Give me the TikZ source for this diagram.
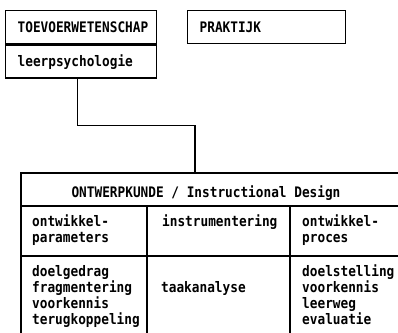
\documentclass[tikz,border=0pt]{standalone}
\usepackage{fontspec}
\newfontfamily\druk[FakeStretch=0.88]{DejaVu Sans Mono}
\usetikzlibrary{positioning}

\tikzset{
  lijn/.style={line width=1.3pt},
  tekst/.style={font=\druk\bfseries\fontsize{14.5}{16}\selectfont, inner sep=0pt},
  vak/.style={tekst, draw, lijn, anchor=north west, inner xsep=12pt, inner ysep=0pt,
    minimum height=33pt, text height=11pt, text depth=0pt, align=left},
  cel/.style={tekst, anchor=north west, align=left}
}

\begin{document}
\begin{tikzpicture}[x=1pt, y=-1pt]
\clip (0,0) rectangle (398,332);

\node[vak, text width=127pt] (toevoer) at (5,10) {TOEVOERWETENSCHAP};
\node[vak, text width=127pt, below=0pt of toevoer] (leer) {leerpsychologie};
\node[vak, text width=134pt] (praktijk) at (187,10) {PRAKTIJK};

\coordinate (tafel) at (195,173);
\draw[lijn] ([xshift=-3.5pt]leer.south) -- ++(0,47) -| (tafel);

\draw[lijn] (21,340) |- (410,173);
\draw[lijn] (21,206) -- (410,206);
\draw[lijn] (21,256) -- (410,256);
\draw[lijn] (147,206) -- (147,340);
\draw[lijn] (290,206) -- (290,340);

\node[tekst, anchor=base] (kop) at (206,197) {ONTWERPKUNDE / Instructional Design};

\node[cel] (parameters) at (32,215) {ontwikkel-\\parameters};
\node[tekst, anchor=base west] (instrument) at (162,226) {instrumentering};
\node[cel] (proces) at (302,215) {ontwikkel-\\proces};

\node[cel] (links) at (32,265) {doelgedrag\\fragmentering\\voorkennis\\terugkoppeling};
\node[tekst, anchor=base west] (taak) at (161,292) {taakanalyse};
\node[cel] (rechts) at (302,265) {doelstelling\\voorkennis\\leerweg\\evaluatie};
\end{tikzpicture}
\end{document}
